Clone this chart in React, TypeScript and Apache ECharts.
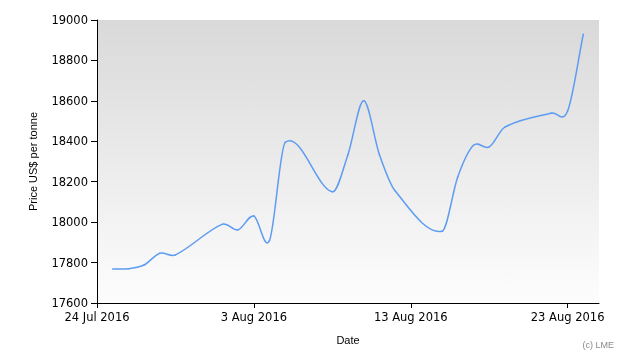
import React, { useEffect, useRef } from "react";
import * as echarts from "echarts";

const baseDate = "2016-07-24";
const endDate = "2016-08-25";
const dates = [
  "2016-07-25", "2016-07-26", "2016-07-27", "2016-07-28", "2016-07-29",
  "2016-08-01", "2016-08-02", "2016-08-03", "2016-08-04", "2016-08-05",
  "2016-08-08", "2016-08-09", "2016-08-10", "2016-08-11", "2016-08-12",
  "2016-08-15", "2016-08-16", "2016-08-17", "2016-08-18", "2016-08-19",
  "2016-08-22", "2016-08-23", "2016-08-24",
];
const prices = [
  17768, 17770, 17788, 17846, 17838,
  17990, 17962, 18030, 17910, 18395,
  18150, 18335, 18600, 18335, 18155,
  17955, 18225, 18380, 18372, 18470,
  18540, 18550, 18930,
];
const xTickDates = ["2016-07-24", "2016-08-03", "2016-08-13", "2016-08-23"];
const xTickLabels = ["24 Jul 2016", "3 Aug 2016", "13 Aug 2016", "23 Aug 2016"];
const yMin = 17600;
const yMax = 19000;
const yInterval = 200;

const DAY = 86400000;
const dayOffset = (s: string) => (Date.parse(s) - Date.parse(baseDate)) / DAY;
const LINE_COLOR = "#5d9cf2";

export default function App() {
  const ref = useRef<HTMLDivElement>(null);
  useEffect(() => {
    if (!ref.current) return;
    const chart = echarts.init(ref.current, null, { renderer: "svg" });
    const tickOffsets = xTickDates.map(dayOffset);
    const xs = dates.map(dayOffset);
    const seriesData = xs.map((x, i) => [x, prices[i]]);

    // Cardinal (Catmull-Rom in x) spline segment between point i-1 and i,
    // positioned through the chart's own axes via api.coord.
    const renderItem = (params: any, api: any) => {
      const i = params.dataIndex;
      if (i === 0) return null;
      const n = seriesData.length;
      const P = (k: number) => api.coord(seriesData[Math.max(0, Math.min(n - 1, k))]);
      const slope = (k: number) => {
        const a = P(k === 0 ? 0 : k - 1);
        const b = P(k === n - 1 ? n - 1 : k + 1);
        return (b[1] - a[1]) / (b[0] - a[0]);
      };
      const p0 = P(i - 1);
      const p1 = P(i);
      const dx = (p1[0] - p0[0]) / 3;
      const m0 = slope(i - 1);
      const m1 = slope(i);
      return {
        type: "bezierCurve",
        silent: true,
        shape: {
          x1: p0[0],
          y1: p0[1],
          cpx1: p0[0] + dx,
          cpy1: p0[1] + m0 * dx,
          cpx2: p1[0] - dx,
          cpy2: p1[1] - m1 * dx,
          x2: p1[0],
          y2: p1[1],
        },
        style: { stroke: LINE_COLOR, lineWidth: 1.5, fill: null, lineCap: "round" },
      };
    };

    chart.setOption({
      animation: false,
      grid: {
        left: 97,
        top: 20,
        right: 31,
        bottom: 57,
        show: true,
        borderWidth: 0,
        backgroundColor: new echarts.graphic.LinearGradient(0, 0, 0, 1, [
          { offset: 0, color: "#d9d9d9" },
          { offset: 1, color: "#fdfdfd" },
        ]),
      },
      xAxis: {
        type: "value",
        min: 0,
        max: dayOffset(endDate),
        name: "Date",
        nameLocation: "middle",
        nameGap: 31,
        nameTextStyle: { fontFamily: "Liberation Sans", fontSize: 11, color: "#000" },
        axisLine: { show: true, onZero: false, lineStyle: { color: "#000", width: 1 } },
        axisTick: { show: true, length: 5, customValues: tickOffsets, lineStyle: { color: "#000" } },
        axisLabel: {
          customValues: tickOffsets,
          margin: 8,
          color: "#000",
          fontFamily: "DejaVu Sans",
          fontSize: 11.5,
          formatter: (v: number) => {
            const i = tickOffsets.indexOf(v);
            return i >= 0 ? xTickLabels[i] : "";
          },
        },
        splitLine: { show: false },
      },
      yAxis: {
        type: "value",
        min: yMin,
        max: yMax,
        interval: yInterval,
        name: "Price US$ per tonne",
        nameLocation: "middle",
        nameGap: 59,
        nameTextStyle: { fontFamily: "Liberation Sans", fontSize: 11, color: "#000" },
        axisLine: { show: true, lineStyle: { color: "#000", width: 1 } },
        axisTick: { show: true, length: 6, lineStyle: { color: "#000" } },
        axisLabel: {
          margin: 9,
          color: "#000",
          fontFamily: "DejaVu Sans",
          fontSize: 11.5,
          formatter: (v: number) => String(v),
        },
        splitLine: { show: false },
      },
      graphic: [
        {
          type: "text",
          right: 16,
          top: 340,
          style: { text: "(c) LME", fill: "#8a8a8a", fontSize: 9, fontFamily: "Liberation Sans" },
        },
      ],
      series: [
        {
          type: "custom",
          name: "Price",
          data: seriesData,
          encode: { x: 0, y: 1 },
          renderItem,
          silent: true,
        },
      ],
    });
    return () => chart.dispose();
  }, []);
  return (
    <div
      ref={ref}
      style={{ position: "fixed", left: 0, top: 0, width: 630, height: 360 }}
    />
  );
}
